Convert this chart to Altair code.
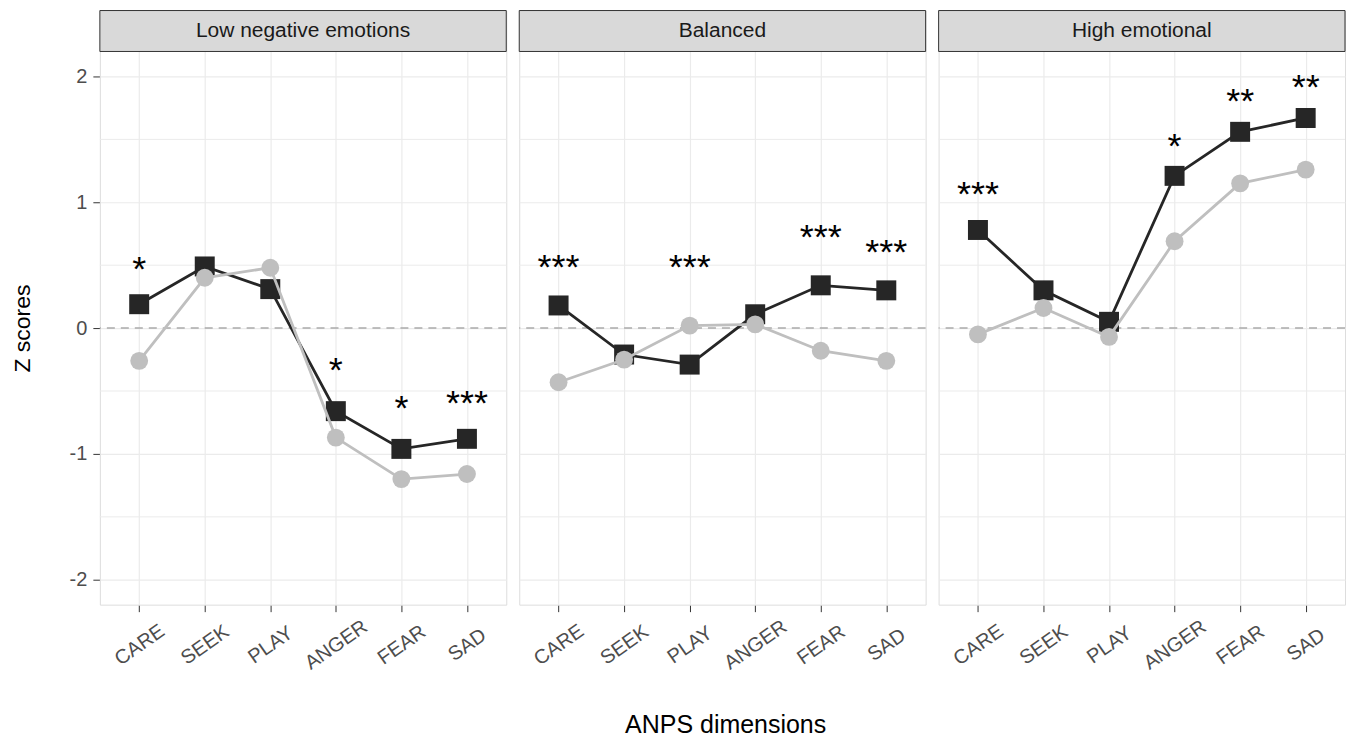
import altair as alt
import pandas as pd

dims = ["CARE", "SEEK", "PLAY", "ANGER", "FEAR", "SAD"]
panels = ["Low negative emotions", "Balanced", "High emotional"]

dark_low = [0.19, 0.49, 0.31, -0.66, -0.96, -0.88]
dark_bal = [0.18, -0.21, -0.29, 0.11, 0.34, 0.30]
dark_high = [0.78, 0.30, 0.05, 1.21, 1.56, 1.67]

light_low = [-0.26, 0.40, 0.48, -0.87, -1.20, -1.16]
light_bal = [-0.43, -0.25, 0.02, 0.03, -0.18, -0.26]
light_high = [-0.05, 0.16, -0.07, 0.69, 1.15, 1.26]

star_panels = ["Low negative emotions"] * 4 + ["Balanced"] * 4 + ["High emotional"] * 4
star_dims = ["CARE", "ANGER", "FEAR", "SAD", "CARE", "PLAY", "FEAR", "SAD", "CARE", "ANGER", "FEAR", "SAD"]
star_labels = ["*", "*", "*", "***", "***", "***", "***", "***", "***", "*", "**", "**"]
star_y = [0.49, -0.31, -0.61, -0.57, 0.51, 0.51, 0.75, 0.63, 1.09, 1.47, 1.83, 1.94]

minor_ticks = [-1.5, -0.5, 0.5, 1.5]
major_ticks = [-2, -1, 0, 1, 2]

rows = []
for p, dv, lv in zip(panels, [dark_low, dark_bal, dark_high], [light_low, light_bal, light_high]):
    for d, a, b in zip(dims, dv, lv):
        rows.append({"panel": p, "dim": d, "kind": "dark", "value": a, "label": ""})
        rows.append({"panel": p, "dim": d, "kind": "light", "value": b, "label": ""})
    for m in minor_ticks:
        rows.append({"panel": p, "dim": None, "kind": "minor", "value": m, "label": ""})
    rows.append({"panel": p, "dim": None, "kind": "zero", "value": 0.0, "label": ""})
    rows.append({"panel": p, "dim": None, "kind": "strip", "value": 0.0, "label": p})
for p, d, l, y in zip(star_panels, star_dims, star_labels, star_y):
    rows.append({"panel": p, "dim": d, "kind": "star", "value": y, "label": l})
df = pd.DataFrame(rows)

W = 407
H = 595
STRIP = 41
FONT = "Liberation Sans"

xs = alt.Scale(domain=dims, padding=0.6)
ys = alt.Scale(domain=[-2.198, 2.524], nice=False, zero=False)

x_enc = alt.X("dim:N", scale=xs, sort=dims, title=None,
              axis=alt.Axis(labelAngle=-35, labelAlign="center", labelBaseline="middle",
                            labelPadding=33, tickSize=7, labelFontSize=20,
                            labelColor="#4D4D4D", tickColor="#333333", domain=False,
                            grid=True, gridColor="#EBEBEB", gridWidth=1.2, labelFont=FONT))
y_enc = alt.Y("value:Q", scale=ys, title="Z scores",
              axis=alt.Axis(values=major_ticks, tickSize=7, labelPadding=6, labelFontSize=20,
                            labelColor="#4D4D4D", tickColor="#333333", domain=False,
                            grid=True, gridColor="#EBEBEB", gridWidth=1.2,
                            labelExpr="datum.value < 0 ? '-' + abs(datum.value) : '' + datum.value",
                            titleFontSize=23, titleFontWeight="normal", titleColor="#000000",
                            titlePadding=35, titleY=318, labelFont=FONT, titleFont=FONT))

base = alt.Chart()

minor = base.mark_rule(color="#EBEBEB", strokeWidth=1).encode(
    y=alt.Y("value:Q", scale=ys)).transform_filter(alt.datum.kind == "minor")
zero = base.mark_rule(color="#AAAAAA", strokeWidth=1.5, strokeDash=[8, 6]).encode(
    y=alt.Y("value:Q", scale=ys)).transform_filter(alt.datum.kind == "zero")

dark_line = base.mark_line(color="#262626", strokeWidth=2.8).encode(
    x=x_enc, y=y_enc).transform_filter(alt.datum.kind == "dark")
dark_pts = base.mark_point(shape="square", filled=True, size=400, color="#262626", opacity=1).encode(
    x=x_enc, y=y_enc).transform_filter(alt.datum.kind == "dark")
light_line = base.mark_line(color="#BFBFBF", strokeWidth=2.8).encode(
    x=x_enc, y=y_enc).transform_filter(alt.datum.kind == "light")
light_pts = base.mark_circle(size=320, color="#BFBFBF", opacity=1).encode(
    x=x_enc, y=y_enc).transform_filter(alt.datum.kind == "light")

stars = base.mark_text(fontSize=36, baseline="middle", dy=4, color="#000000", font=FONT).encode(
    x=x_enc, y=y_enc, text="label:N").transform_filter(alt.datum.kind == "star")

strip_rect = base.mark_rect(fill="#D9D9D9", stroke="#333333", strokeWidth=1).encode(
    x=alt.value(0), x2=alt.value(W), y=alt.value(0), y2=alt.value(STRIP)
).transform_filter(alt.datum.kind == "strip")
strip_text = base.mark_text(fontSize=21, color="#1A1A1A", font=FONT, baseline="middle").encode(
    x=alt.value(W / 2), y=alt.value(STRIP / 2), text="label:N"
).transform_filter(alt.datum.kind == "strip")

layer = alt.layer(minor, zero, dark_line, dark_pts, light_line, light_pts, stars,
                  strip_rect, strip_text).properties(width=W, height=H)

chart = layer.facet(
    data=df,
    column=alt.Column("panel:N", sort=panels, title=None,
                      header=alt.Header(labels=False, title=None)),
    spacing=13,
    bounds="flush",
).properties(
    title=alt.TitleParams("ANPS dimensions", orient="bottom", anchor="middle", fontSize=25,
                          fontWeight="normal", font=FONT, color="#000000", dx=47, offset=40),
    padding={"left": 3, "top": 1, "right": 0, "bottom": 0},
).configure_view(stroke="#333333", strokeWidth=1).configure(background="white")

chart.save("out.html", embed_options={"renderer": "svg", "actions": False})
